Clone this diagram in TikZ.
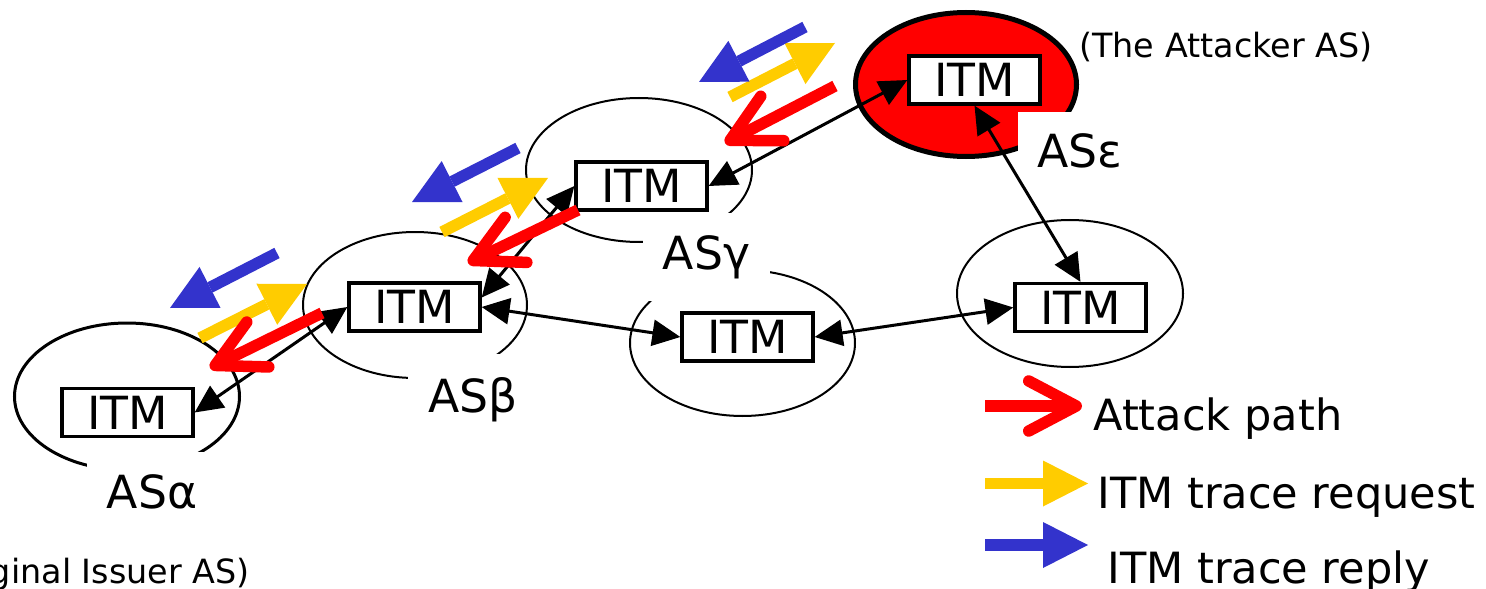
\documentclass[tikz,border=0pt]{standalone}
\usepackage{fontspec}
\setmainfont{DejaVu Sans}
\usepackage{tikz}
\usetikzlibrary{positioning}
\usetikzlibrary{arrows.meta}
\usetikzlibrary{shapes.geometric}
\definecolor{attackred}{HTML}{FF0000}
\definecolor{reqyellow}{HTML}{FFCC00}
\definecolor{replyblue}{HTML}{3333CC}

\begin{document}
\begin{tikzpicture}
    \tikzstyle{as}=[ellipse, draw, line width=0.04cm, minimum width=4.5cm,
            minimum height=2.92cm, inner sep=0pt]
    \tikzstyle{itm}=[rectangle, draw, fill=white, line width=0.065cm,
            minimum width=2.62cm, minimum height=0.96cm, inner sep=0pt,
            font=\fontsize{26}{30}\selectfont]
    \tikzstyle{aslabel}=[fill=white, anchor=base, inner xsep=0.4cm,
            inner ysep=0.45cm, font=\fontsize{26}{30}\selectfont]
    \tikzstyle{link}=[line width=0.06cm,
            {Triangle[length=0.56cm,width=0.52cm]}-{Triangle[length=0.56cm,width=0.52cm]}]
    \tikzstyle{attack}=[attackred, line width=0.23cm,
            -{Straight Barb[length=0.95cm,width=1.0cm,round]}]
    \tikzstyle{request}=[reqyellow, line width=0.23cm,
            -{Triangle[length=0.9cm,width=0.92cm,line width=0pt]}]
    \tikzstyle{reply}=[replyblue, line width=0.23cm,
            -{Triangle[length=0.9cm,width=0.92cm,line width=0pt]}]
    \tikzstyle{legend}=[anchor=base west, inner sep=0pt,
            font=\fontsize{24.5}{28}\selectfont]
    \tikzstyle{note}=[inner sep=0pt, font=\fontsize{19}{23}\selectfont]

        \useasboundingbox (0,0) rectangle (29.72,-11.78);

        % autonomous systems
        \node[as, line width=0.06cm, minimum height=2.94cm] (asA) at (2.54,-7.93) {};
        \node[as, minimum width=4.48cm] (asB) at (8.3,-6.1) {};
        \node[as, minimum width=4.52cm, minimum height=2.88cm] (asG) at (12.78,-3.4) {};
        \node[as] (asM) at (14.85,-6.86) {};
        \node[as, fill=attackred, line width=0.1cm, minimum width=4.42cm,
            minimum height=2.88cm] (asE) at (19.32,-1.69) {};
        \node[as, minimum width=4.52cm, minimum height=2.94cm] (asR) at (21.4,-5.87) {};

        \node[aslabel] (labA) at (3.04,-10.16) {ASα};
        \node[aslabel] (labB) at (9.46,-8.24) {ASβ};
        \node[aslabel] (labG) at (14.13,-5.38) {ASγ};
        \node[aslabel] (labE) at (21.6,-3.36) {ASε};

        \node[itm] (itmA) at (2.55,-8.25) {ITM};
        \node[itm] (itmB) at (8.29,-6.14) {ITM};
        \node[itm] (itmG) at (12.83,-3.72) {ITM};
        \node[itm] (itmM) at (14.95,-6.74) {ITM};
        \node[itm] (itmE) at (19.49,-1.6) {ITM};
        \node[itm] (itmR) at (21.61,-6.15) {ITM};

        \draw[link] (itmA.east) -- (itmB.west);
        \draw[link] (itmB.8) -- (itmG.west);
        \draw[link] (itmG.east) -- (itmE.west);
        \draw[link] (itmB.east) -- (itmM.west);
        \draw[link] (itmM.east) -- (itmR.west);
        \draw[link] (itmE.south) -- (itmR.north);

        % trace messages along the path
        \foreach \sx/\sy/\ex/\ey [count=\i] in {4.0/-6.76/6.14/-5.68,
                8.84/-4.64/10.96/-3.56, 14.6/-1.94/16.7/-0.86}
        {
            \coordinate (qs\i) at (\sx,\sy);
            \coordinate (qe\i) at (\ex,\ey);
            \draw[request] (qs\i) -- (qe\i);
        }

        \foreach \sx/\sy/\ex/\ey [count=\i] in {5.54/-5.06/3.40/-6.16,
                10.36/-2.96/8.24/-4.04, 16.10/-0.54/13.98/-1.64}
        {
            \coordinate (rs\i) at (\sx,\sy);
            \coordinate (re\i) at (\ex,\ey);
            \draw[reply] (rs\i) -- (re\i);
        }

        \foreach \sx/\sy/\ex/\ey [count=\i] in {6.44/-6.26/4.2/-7.36,
                11.56/-4.2/9.36/-5.26, 16.7/-1.72/14.5/-2.86}
        {
            \coordinate (as\i) at (\sx,\sy);
            \coordinate (ae\i) at (\ex,\ey);
            \draw[attack] (as\i) -- (ae\i);
        }

        % legend
        \coordinate (la1) at (19.7,-8.12);
        \coordinate (la2) at (21.64,-8.12);
        \coordinate (lq1) at (19.7,-9.67);
        \coordinate (lq2) at (21.76,-9.67);
        \coordinate (lr1) at (19.7,-10.9);
        \coordinate (lr2) at (21.76,-10.9);
        \draw[attack] (la1) -- (la2);
        \draw[request] (lq1) -- (lq2);
        \draw[reply] (lr1) -- (lr2);
        \node[legend] (legA) at (21.86,-8.6) {Attack path};
        \node[legend] (legQ) at (21.94,-10.16) {ITM trace request};
        \node[legend] (legR) at (22.14,-11.66) {ITM trace reply};

        \node[note, anchor=base west] (attacker) at (21.58,-1.16) {(The Attacker AS)};
        \node[note, anchor=base east] (issuer) at (5.0,-11.66) {(Original Issuer AS)};

    \end{tikzpicture}
\end{document}
